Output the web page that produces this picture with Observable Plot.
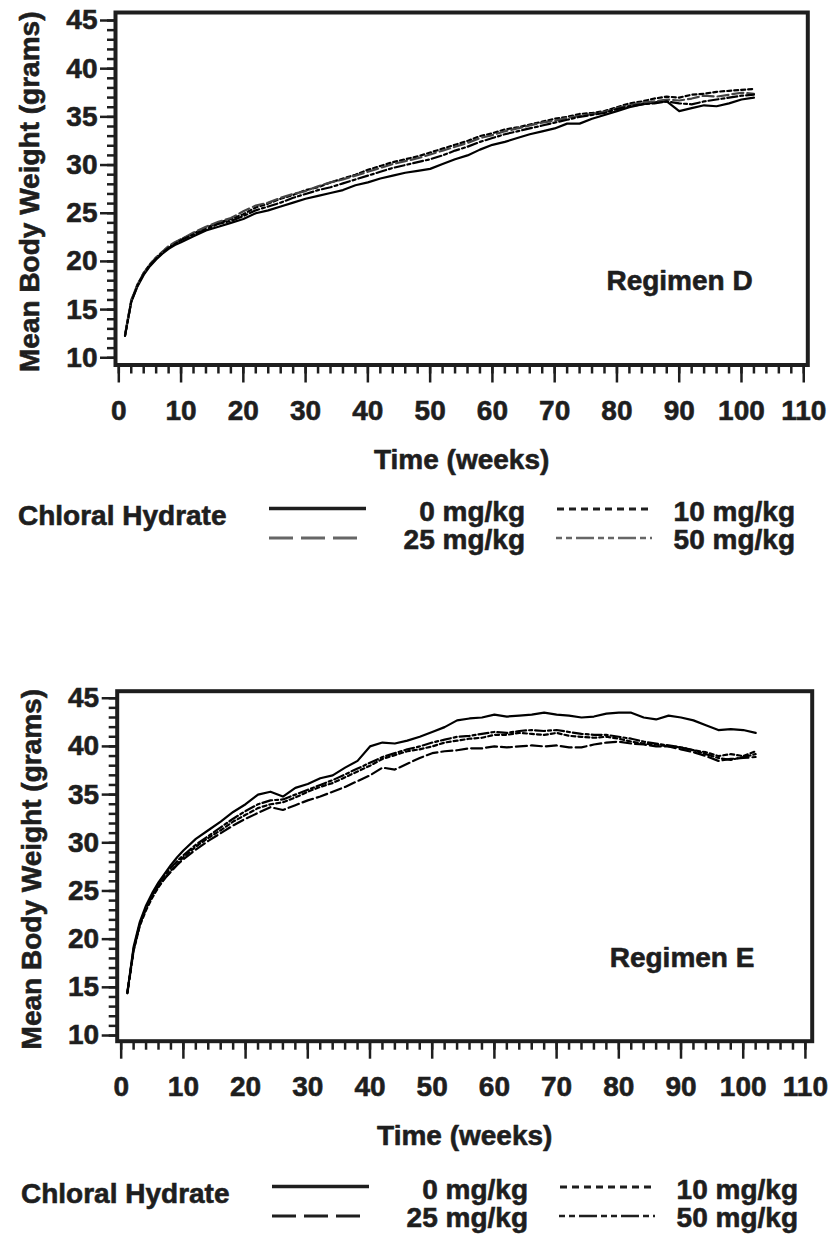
<!DOCTYPE html>
<html><head><meta charset="utf-8">
<script src="https://cdn.jsdelivr.net/npm/d3@7"></script>
<script src="https://cdn.jsdelivr.net/npm/@observablehq/plot@0.6"></script>
<style>
body{margin:0;background:#fff;width:833px;height:1237px;position:relative;overflow:hidden;font-family:"Liberation Sans",Arial,Helvetica,sans-serif;}
.panel{position:absolute;left:0;}
svg text{paint-order:stroke;}
</style></head><body>
<div id="pD" class="panel" style="top:0px"></div>
<div id="lD" class="panel" style="top:480px"></div>
<div id="pE" class="panel" style="top:678px"></div>
<div id="lE" class="panel" style="top:1158px"></div>
<script>
// ---- data ----
const weeks = [1,2,3,4,5,6,7,8,9,10,12,14,16,18,20,22,24,26,28,30,32,34,36,38,40,42,44,46,48,50,52,54,56,58,60,62,64,66,68,70,72,74,76,78,80,82,84,86,88,90,92,94,96,98,100,102];
const doses = ["0 mg/kg","10 mg/kg","25 mg/kg","50 mg/kg"];
const legendTitle = "Chloral Hydrate";

const regD_0  = [12.3,15.8,17.4,18.6,19.5,20.2,20.8,21.3,21.7,22.0, 22.6,23.2,23.6,24.0,24.4,25.0,25.3,25.7,26.1,26.5, 26.8,27.1,27.4,27.9,28.2,28.6,28.9,29.2,29.4,29.6, 30.1,30.6,31.0,31.6,32.1,32.4,32.8,33.2,33.5,33.8, 34.3,34.3,34.8,35.2,35.6,36.0,36.3,36.5,36.6,35.6, 35.9,36.2,36.1,36.4,36.8,37.0];
const regD_10 = [12.3,15.9,17.6,18.8,19.7,20.4,21.0,21.5,21.9,22.3, 22.9,23.5,24.0,24.4,24.9,25.6,26.0,26.5,26.9,27.4, 27.7,28.2,28.6,29.0,29.5,29.9,30.3,30.6,30.9,31.3, 31.7,32.1,32.5,33.0,33.3,33.7,33.9,34.2,34.5,34.8, 35.0,35.3,35.4,35.6,36.0,36.4,36.6,36.9,37.1,37.0, 37.3,37.4,37.6,37.7,37.8,37.9];
const regD_25 = [12.4,16.0,17.6,18.8,19.7,20.4,21.0,21.6,22.0,22.3, 23.0,23.6,24.1,24.5,25.2,25.8,26.1,26.6,27.0,27.3, 27.8,28.2,28.5,28.9,29.3,29.7,30.1,30.4,30.7,31.1, 31.5,31.9,32.3,32.8,33.1,33.5,33.8,34.1,34.4,34.6, 34.9,35.1,35.3,35.5,35.9,36.2,36.5,36.6,36.8,36.7, 36.9,37.2,37.1,37.3,37.5,37.4];
const regD_50 = [12.3,15.8,17.5,18.7,19.6,20.3,20.9,21.4,21.8,22.2, 22.8,23.3,23.9,24.2,24.7,25.3,25.7,26.1,26.6,27.0, 27.4,27.7,28.1,28.5,28.9,29.3,29.7,30.0,30.3,30.6, 31.0,31.5,31.9,32.4,32.8,33.2,33.5,33.8,34.1,34.4, 34.7,35.0,35.2,35.4,35.8,36.1,36.3,36.4,36.6,36.4, 36.3,36.6,36.8,37.0,37.2,37.3];

const regE_0  = [14.5,19.2,21.8,23.5,24.8,25.9,26.8,27.7,28.5,29.2, 30.4,31.3,32.2,33.2,34.0,35.0,35.3,34.8,35.7,36.1, 36.7,37.0,37.8,38.5,40.0,40.4,40.3,40.6,41.0,41.5, 42.0,42.7,42.9,43.0,43.3,43.1,43.2,43.3,43.5,43.3, 43.2,43.0,43.1,43.4,43.5,43.5,43.0,42.8,43.2,43.0, 42.7,42.2,41.7,41.8,41.7,41.4];
const regE_10 = [14.4,18.8,21.4,23.0,24.3,25.4,26.3,27.1,27.8,28.5, 29.6,30.5,31.3,32.2,32.9,33.6,34.0,34.2,34.7,35.3, 35.8,36.2,36.8,37.4,38.0,38.7,39.1,39.5,39.7,40.0, 40.4,40.6,40.8,40.9,41.2,41.2,41.4,41.3,41.2,41.4, 41.1,41.0,40.9,41.0,40.8,40.5,40.3,40.2,40.0,39.9, 39.6,39.4,39.0,39.2,39.0,39.5];
const regE_25 = [14.4,18.9,21.5,23.2,24.5,25.5,26.3,27.0,27.7,28.3, 29.3,30.2,31.0,31.8,32.5,33.1,33.7,33.4,33.9,34.4, 34.8,35.3,35.8,36.4,37.0,37.8,37.6,38.2,38.8,39.3, 39.5,39.6,39.8,39.8,40.0,39.9,40.0,40.1,40.0,40.1, 39.9,39.9,40.2,40.4,40.5,40.3,40.2,40.0,40.0,39.7, 39.4,39.0,38.5,38.7,38.8,38.9];
const regE_50 = [14.5,19.0,21.6,23.3,24.6,25.7,26.6,27.4,28.1,28.7, 29.8,30.7,31.6,32.5,33.3,34.0,34.4,34.5,35.0,35.5, 36.0,36.5,37.1,37.7,38.3,38.9,39.3,39.7,40.0,40.4, 40.7,41.0,41.1,41.3,41.5,41.4,41.6,41.7,41.6,41.7, 41.5,41.3,41.2,41.2,41.0,40.8,40.5,40.3,40.1,39.9, 39.6,39.2,38.8,38.6,38.9,39.2];

const xMajor = [0,10,20,30,40,50,60,70,80,90,100,110];
const xMinor = [0,2,4,6,8,10,12,14,16,18,20,22,24,26,28,30,32,34,36,38,40,42,44,46,48,50,52,54,56,58,60,62,64,66,68,70,72,74,76,78,80,82,84,86,88,90,92,94,96,98,100,102,104,106,108,110];
const yMajor = [10,15,20,25,30,35,40,45];
const yMinor = [10,11,12,13,14,15,16,17,18,19,20,21,22,23,24,25,26,27,28,29,30,31,32,33,34,35,36,37,38,39,40,41,42,43,44,45];

const xLabel = "Time (weeks)";
const yLabel = "Mean Body Weight (grams)";

// ---- styling ----
const FONT = '"Liberation Sans", Arial, Helvetica, sans-serif';
const INK = "#1e1e1e";
const FS = 28;
const TSW = 0.6; // text outline to mimic the heavy type
const chartDash = ["none", "4,3", "11,4", "10,3,3,3"];
const legendDash = ["none", "7,5", "24,8", "6,4,6,4,18,4"];

function panel(el, series, name, opt) {
  const marks = [];
  series.forEach((vals, k) => {
    const rows = weeks.map((w, i) => ({week: w, bw: vals[i]}));
    marks.push(Plot.line(rows, {x: "week", y: "bw", stroke: k === 2 ? opt.c25 : "#000",
      strokeWidth: 2.2, strokeDasharray: chartDash[k]}));
  });
  const txt = {fontSize: FS, fontWeight: "bold", fill: INK, stroke: INK, strokeWidth: TSW};
  marks.push(
    Plot.axisX({ticks: xMinor, tickSize: 9, tickFormat: () => "", label: null, strokeWidth: 2.5, color: INK}),
    Plot.axisX({ticks: xMajor, tickSize: 18, tickPadding: 17, label: null, strokeWidth: 2.5, color: INK,
      fontSize: FS, fontWeight: "bold"}),
    Plot.axisY({ticks: yMinor, tickSize: 8, tickFormat: () => "", label: null, strokeWidth: 2.5, color: INK}),
    Plot.axisY({ticks: yMajor, tickSize: 15, tickPadding: 3, label: null, strokeWidth: 2.5, color: INK,
      fontSize: FS, fontWeight: "bold"}),
    Plot.frame({stroke: INK, strokeWidth: 4}),
    Plot.text([name], {x: 101.8, y: 18, textAnchor: "end", ...txt}),
    Plot.text([xLabel], {frameAnchor: "bottom", textAnchor: "middle", dy: 104, ...txt}),
    Plot.text([yLabel], {frameAnchor: "left", textAnchor: "middle", dx: -85, dy: 3, rotate: -90, ...txt})
  );
  const p = Plot.plot({
    width: 833, height: 480,
    marginLeft: opt.ml, marginRight: opt.mr, marginTop: opt.mt, marginBottom: opt.mb,
    x: {domain: opt.xd}, y: {domain: opt.yd},
    style: {fontFamily: FONT, fontWeight: "bold", fontSize: FS + "px", color: INK, background: "white", overflow: "visible"},
    marks
  });
  // heavier tick labels
  d3.select(p).selectAll("g[aria-label='x-axis tick label'] text, g[aria-label='y-axis tick label'] text")
    .attr("stroke", INK).attr("stroke-width", TSW);
  document.getElementById(el).appendChild(p);
}

function legend(el, shift, cDash) {
  const svg = d3.select("#" + el).append("svg").attr("width", 833).attr("height", 80)
    .style("font-family", FONT).style("font-weight", "bold").style("font-size", FS + "px");
  const g = svg.append("g").attr("transform", `translate(${shift},0)`);
  g.append("text").attr("x", 18).attr("y", 45).attr("fill", INK).attr("stroke", INK).attr("stroke-width", TSW).text(legendTitle);
  const pos = [
    {x1: 269, x2: 366, ly: 28.5, tx: 525, ty: 41},
    {x1: 557, x2: 652, ly: 29, tx: 795, ty: 41},
    {x1: 269, x2: 362, ly: 58, tx: 525, ty: 69},
    {x1: 556, x2: 652, ly: 58, tx: 795, ty: 69}
  ];
  doses.forEach((d, k) => {
    const p = pos[k];
    g.append("line").attr("x1", p.x1).attr("x2", p.x2).attr("y1", p.ly).attr("y2", p.ly)
      .attr("stroke", k >= 2 ? cDash : INK).attr("stroke-width", k === 0 ? 3.5 : (k === 3 ? 2.5 : 3))
      .attr("stroke-dasharray", legendDash[k]);
    g.append("text").attr("x", p.tx).attr("y", p.ty).attr("text-anchor", "end")
      .attr("fill", INK).attr("stroke", INK).attr("stroke-width", TSW).text(d);
  });
}

panel("pD", [regD_0, regD_10, regD_25, regD_50], "Regimen D",
  {ml: 115, mr: 25.7, mt: 12, mb: 115.5, xd: [-0.53, 110.65], yd: [9.25, 45.83], c25: "#444"});
panel("pE", [regE_0, regE_10, regE_25, regE_50], "Regimen E",
  {ml: 116.7, mr: 21.3, mt: 12.7, mb: 117.3, xd: [-0.64, 111.09], yd: [9.41, 45.73], c25: "#000"});
legend("lD", 0, "#666");
legend("lE", 3, INK);
</script>
</body></html>
